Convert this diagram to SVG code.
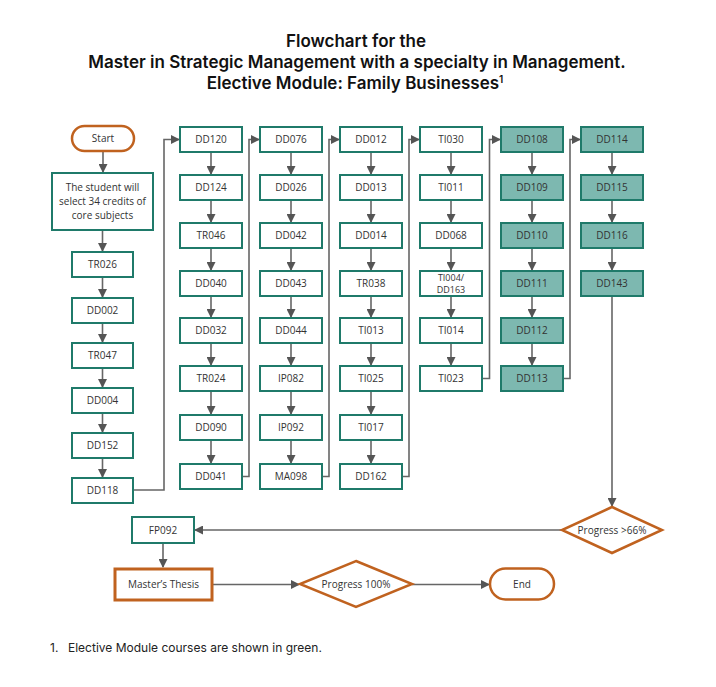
<svg xmlns="http://www.w3.org/2000/svg" width="716" height="687" viewBox="0 0 716 687">
<style>
.bg{fill:#ffffff}
.title{font-family:Inter,"Noto Sans",sans-serif;font-weight:600;font-size:17px;fill:#111;text-anchor:middle}
.foot{font-family:Inter,"Noto Sans",sans-serif;font-size:12px;fill:#222}
.box rect{fill:#ffffff;stroke:#1f7a6a;stroke-width:2}
.gbox rect{fill:#7db8b0;stroke:#1f7a6a;stroke-width:2}
.obox rect,.obox path{fill:#ffffff;stroke:#c0621f;stroke-width:2.5}
.mt rect{fill:#ffffff;stroke:#c0621f;stroke-width:3}
.lbl{font-family:"Open Sans","Noto Sans",sans-serif;font-size:10px;fill:#333;text-anchor:middle}
.sm{font-size:9px}
.con{fill:none;stroke:#666;stroke-width:1.6}
</style>
<defs>
<marker id="ah" markerUnits="userSpaceOnUse" markerWidth="9" markerHeight="9" refX="8" refY="4.5" orient="auto">
<path d="M0,0 L9,4.5 L0,9 z" fill="#555"/>
</marker>
</defs>
<rect class="bg" x="0" y="0" width="716" height="687"/>
<g id="title">
<text class="title" x="356" y="47">Flowchart for the</text>
<text class="title" x="357" y="68">Master in Strategic Management with a specialty in Management.</text>
<text class="title" x="355" y="89">Elective Module: Family Businesses<tspan font-size="10" dy="-6">1</tspan></text>
</g>
<g id="connectors">
<line class="con" x1="103" y1="151" x2="103" y2="172" marker-end="url(#ah)"/>
<line class="con" x1="102.5" y1="230" x2="102.5" y2="251" marker-end="url(#ah)"/>
<line class="con" x1="102.5" y1="277" x2="102.5" y2="297" marker-end="url(#ah)"/>
<line class="con" x1="102.5" y1="323" x2="102.5" y2="342" marker-end="url(#ah)"/>
<line class="con" x1="102.5" y1="368" x2="102.5" y2="387" marker-end="url(#ah)"/>
<line class="con" x1="102.5" y1="413" x2="102.5" y2="432" marker-end="url(#ah)"/>
<line class="con" x1="102.5" y1="458" x2="102.5" y2="477" marker-end="url(#ah)"/>
<polyline class="con" points="133,490 164,490 164,139.5 179,139.5" marker-end="url(#ah)"/>
<polyline class="con" points="242,476.5 249,476.5 249,139.5 259,139.5" marker-end="url(#ah)"/>
<polyline class="con" points="322,476.5 329,476.5 329,139.5 339,139.5" marker-end="url(#ah)"/>
<polyline class="con" points="402,476.5 409,476.5 409,139.5 419,139.5" marker-end="url(#ah)"/>
<polyline class="con" points="482,378.5 489.5,378.5 489.5,139.5 500,139.5" marker-end="url(#ah)"/>
<polyline class="con" points="563,378.5 570,378.5 570,139.5 580,139.5" marker-end="url(#ah)"/>
<g id="col-arrows">
<line class="con" x1="211" y1="152" x2="211" y2="174" marker-end="url(#ah)"/>
<line class="con" x1="211" y1="200" x2="211" y2="222" marker-end="url(#ah)"/>
<line class="con" x1="211" y1="248" x2="211" y2="270" marker-end="url(#ah)"/>
<line class="con" x1="211" y1="296" x2="211" y2="317" marker-end="url(#ah)"/>
<line class="con" x1="211" y1="343" x2="211" y2="365" marker-end="url(#ah)"/>
<line class="con" x1="211" y1="391" x2="211" y2="414" marker-end="url(#ah)"/>
<line class="con" x1="211" y1="440" x2="211" y2="463" marker-end="url(#ah)"/>
<line class="con" x1="291" y1="152" x2="291" y2="174" marker-end="url(#ah)"/>
<line class="con" x1="291" y1="200" x2="291" y2="222" marker-end="url(#ah)"/>
<line class="con" x1="291" y1="248" x2="291" y2="270" marker-end="url(#ah)"/>
<line class="con" x1="291" y1="296" x2="291" y2="317" marker-end="url(#ah)"/>
<line class="con" x1="291" y1="343" x2="291" y2="365" marker-end="url(#ah)"/>
<line class="con" x1="291" y1="391" x2="291" y2="414" marker-end="url(#ah)"/>
<line class="con" x1="291" y1="440" x2="291" y2="463" marker-end="url(#ah)"/>
<line class="con" x1="371" y1="152" x2="371" y2="174" marker-end="url(#ah)"/>
<line class="con" x1="371" y1="200" x2="371" y2="222" marker-end="url(#ah)"/>
<line class="con" x1="371" y1="248" x2="371" y2="270" marker-end="url(#ah)"/>
<line class="con" x1="371" y1="296" x2="371" y2="317" marker-end="url(#ah)"/>
<line class="con" x1="371" y1="343" x2="371" y2="365" marker-end="url(#ah)"/>
<line class="con" x1="371" y1="391" x2="371" y2="414" marker-end="url(#ah)"/>
<line class="con" x1="371" y1="440" x2="371" y2="463" marker-end="url(#ah)"/>
<line class="con" x1="451" y1="152" x2="451" y2="174" marker-end="url(#ah)"/>
<line class="con" x1="451" y1="200" x2="451" y2="222" marker-end="url(#ah)"/>
<line class="con" x1="451" y1="248" x2="451" y2="270" marker-end="url(#ah)"/>
<line class="con" x1="451" y1="296" x2="451" y2="317" marker-end="url(#ah)"/>
<line class="con" x1="451" y1="343" x2="451" y2="365" marker-end="url(#ah)"/>
<line class="con" x1="532" y1="152" x2="532" y2="174" marker-end="url(#ah)"/>
<line class="con" x1="532" y1="200" x2="532" y2="222" marker-end="url(#ah)"/>
<line class="con" x1="532" y1="248" x2="532" y2="270" marker-end="url(#ah)"/>
<line class="con" x1="532" y1="296" x2="532" y2="317" marker-end="url(#ah)"/>
<line class="con" x1="532" y1="343" x2="532" y2="365" marker-end="url(#ah)"/>
<line class="con" x1="612" y1="152" x2="612" y2="174" marker-end="url(#ah)"/>
<line class="con" x1="612" y1="200" x2="612" y2="222" marker-end="url(#ah)"/>
<line class="con" x1="612" y1="248" x2="612" y2="270" marker-end="url(#ah)"/>
</g>
<line class="con" x1="612" y1="296" x2="612" y2="506" marker-end="url(#ah)"/>
<line class="con" x1="562" y1="530" x2="195" y2="530" marker-end="url(#ah)"/>
<line class="con" x1="163" y1="543" x2="163" y2="567" marker-end="url(#ah)"/>
<line class="con" x1="213" y1="584.5" x2="299" y2="584.5" marker-end="url(#ah)"/>
<line class="con" x1="412" y1="584.5" x2="489" y2="584.5" marker-end="url(#ah)"/>
</g>
<g id="start" class="obox"><rect x="72" y="126" width="62" height="25" rx="12.5"/><text class="lbl" x="103" y="142">Start</text></g>
<g id="intro" class="box"><rect x="52" y="173" width="101" height="57"/>
<text class="lbl" x="102.5" y="191">The student will</text>
<text class="lbl" x="102.5" y="205">select 34 credits of</text>
<text class="lbl" x="102.5" y="219">core subjects</text></g>
<g id="TR026" class="box"><rect x="72" y="252" width="61" height="25"/><text class="lbl" x="102.5" y="268">TR026</text></g>
<g id="DD002" class="box"><rect x="72" y="298" width="61" height="25"/><text class="lbl" x="102.5" y="314">DD002</text></g>
<g id="TR047" class="box"><rect x="72" y="343" width="61" height="25"/><text class="lbl" x="102.5" y="359">TR047</text></g>
<g id="DD004" class="box"><rect x="72" y="388" width="61" height="25"/><text class="lbl" x="102.5" y="404">DD004</text></g>
<g id="DD152" class="box"><rect x="72" y="433" width="61" height="25"/><text class="lbl" x="102.5" y="449">DD152</text></g>
<g id="DD118" class="box"><rect x="72" y="478" width="61" height="25"/><text class="lbl" x="102.5" y="494">DD118</text></g>

<g id="DD120" class="box"><rect x="180" y="127" width="62" height="25"/><text class="lbl" x="211" y="143">DD120</text></g>
<g id="DD124" class="box"><rect x="180" y="175" width="62" height="25"/><text class="lbl" x="211" y="191">DD124</text></g>
<g id="TR046" class="box"><rect x="180" y="223" width="62" height="25"/><text class="lbl" x="211" y="239">TR046</text></g>
<g id="DD040" class="box"><rect x="180" y="271" width="62" height="25"/><text class="lbl" x="211" y="287">DD040</text></g>
<g id="DD032" class="box"><rect x="180" y="318" width="62" height="25"/><text class="lbl" x="211" y="334">DD032</text></g>
<g id="TR024" class="box"><rect x="180" y="366" width="62" height="25"/><text class="lbl" x="211" y="382">TR024</text></g>
<g id="DD090" class="box"><rect x="180" y="415" width="62" height="25"/><text class="lbl" x="211" y="431">DD090</text></g>
<g id="DD041" class="box"><rect x="180" y="464" width="62" height="25"/><text class="lbl" x="211" y="480">DD041</text></g>

<g id="DD076" class="box"><rect x="260" y="127" width="62" height="25"/><text class="lbl" x="291" y="143">DD076</text></g>
<g id="DD026" class="box"><rect x="260" y="175" width="62" height="25"/><text class="lbl" x="291" y="191">DD026</text></g>
<g id="DD042" class="box"><rect x="260" y="223" width="62" height="25"/><text class="lbl" x="291" y="239">DD042</text></g>
<g id="DD043" class="box"><rect x="260" y="271" width="62" height="25"/><text class="lbl" x="291" y="287">DD043</text></g>
<g id="DD044" class="box"><rect x="260" y="318" width="62" height="25"/><text class="lbl" x="291" y="334">DD044</text></g>
<g id="IP082" class="box"><rect x="260" y="366" width="62" height="25"/><text class="lbl" x="291" y="382">IP082</text></g>
<g id="IP092" class="box"><rect x="260" y="415" width="62" height="25"/><text class="lbl" x="291" y="431">IP092</text></g>
<g id="MA098" class="box"><rect x="260" y="464" width="62" height="25"/><text class="lbl" x="291" y="480">MA098</text></g>

<g id="DD012" class="box"><rect x="340" y="127" width="62" height="25"/><text class="lbl" x="371" y="143">DD012</text></g>
<g id="DD013" class="box"><rect x="340" y="175" width="62" height="25"/><text class="lbl" x="371" y="191">DD013</text></g>
<g id="DD014" class="box"><rect x="340" y="223" width="62" height="25"/><text class="lbl" x="371" y="239">DD014</text></g>
<g id="TR038" class="box"><rect x="340" y="271" width="62" height="25"/><text class="lbl" x="371" y="287">TR038</text></g>
<g id="TI013" class="box"><rect x="340" y="318" width="62" height="25"/><text class="lbl" x="371" y="334">TI013</text></g>
<g id="TI025" class="box"><rect x="340" y="366" width="62" height="25"/><text class="lbl" x="371" y="382">TI025</text></g>
<g id="TI017" class="box"><rect x="340" y="415" width="62" height="25"/><text class="lbl" x="371" y="431">TI017</text></g>
<g id="DD162" class="box"><rect x="340" y="464" width="62" height="25"/><text class="lbl" x="371" y="480">DD162</text></g>

<g id="TI030" class="box"><rect x="420" y="127" width="62" height="25"/><text class="lbl" x="451" y="143">TI030</text></g>
<g id="TI011" class="box"><rect x="420" y="175" width="62" height="25"/><text class="lbl" x="451" y="191">TI011</text></g>
<g id="DD068" class="box"><rect x="420" y="223" width="62" height="25"/><text class="lbl" x="451" y="239">DD068</text></g>
<g id="TI004-DD163" class="box"><rect x="420" y="271" width="62" height="25"/><text class="lbl sm" x="451" y="281">TI004/</text><text class="lbl sm" x="451" y="293">DD163</text></g>
<g id="TI014" class="box"><rect x="420" y="318" width="62" height="25"/><text class="lbl" x="451" y="334">TI014</text></g>
<g id="TI023" class="box"><rect x="420" y="366" width="62" height="25"/><text class="lbl" x="451" y="382">TI023</text></g>

<g id="DD108" class="gbox"><rect x="501" y="127" width="62" height="25"/><text class="lbl" x="532" y="143">DD108</text></g>
<g id="DD109" class="gbox"><rect x="501" y="175" width="62" height="25"/><text class="lbl" x="532" y="191">DD109</text></g>
<g id="DD110" class="gbox"><rect x="501" y="223" width="62" height="25"/><text class="lbl" x="532" y="239">DD110</text></g>
<g id="DD111" class="gbox"><rect x="501" y="271" width="62" height="25"/><text class="lbl" x="532" y="287">DD111</text></g>
<g id="DD112" class="gbox"><rect x="501" y="318" width="62" height="25"/><text class="lbl" x="532" y="334">DD112</text></g>
<g id="DD113" class="gbox"><rect x="501" y="366" width="62" height="25"/><text class="lbl" x="532" y="382">DD113</text></g>

<g id="DD114" class="gbox"><rect x="581" y="127" width="62" height="25"/><text class="lbl" x="612" y="143">DD114</text></g>
<g id="DD115" class="gbox"><rect x="581" y="175" width="62" height="25"/><text class="lbl" x="612" y="191">DD115</text></g>
<g id="DD116" class="gbox"><rect x="581" y="223" width="62" height="25"/><text class="lbl" x="612" y="239">DD116</text></g>
<g id="DD143" class="gbox"><rect x="581" y="271" width="62" height="25"/><text class="lbl" x="612" y="287">DD143</text></g>

<g id="progress66" class="obox"><path d="M612,507 L662,530 L612,553 L562,530 Z"/><text class="lbl" x="612" y="534">Progress &gt;66%</text></g>
<g id="FP092" class="box"><rect x="132" y="517" width="62" height="26"/><text class="lbl" x="163" y="534">FP092</text></g>
<g id="thesis" class="mt"><rect x="115" y="569" width="97" height="31"/><text class="lbl" x="163.5" y="588">Master’s Thesis</text></g>
<g id="progress100" class="obox"><path d="M356,561 L412,584 L356,607 L300,584 Z"/><text class="lbl" x="356" y="588">Progress 100%</text></g>
<g id="end" class="obox"><rect x="490" y="568.5" width="64" height="31" rx="15.5"/><text class="lbl" x="522" y="588">End</text></g>

<g id="footnote">
<text class="foot" x="50" y="652">1.</text>
<text class="foot" x="68" y="652">Elective Module courses are shown in green.</text>
</g>
</svg>
